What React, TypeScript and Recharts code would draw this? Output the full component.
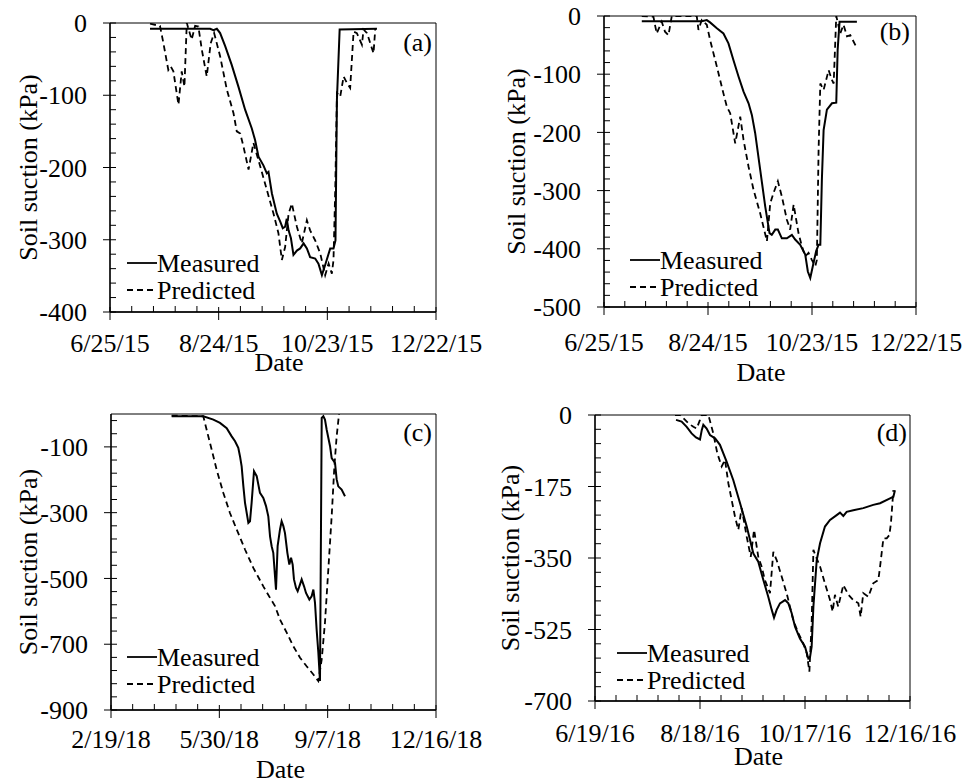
import React from "react";
import { LineChart, Line, XAxis, YAxis, ReferenceArea, Legend } from "recharts";

const FONT = '"Liberation Serif", "Times New Roman", serif';

// (a) days after 6/25/15, soil suction in kPa
const measuredA: number[][] = [
  [22.1, -8], [55.3, -8], [57.1, -10], [59, -8], [60.8, -14], [63.6, -32], [67.2, -58],
  [70.9, -88], [74.6, -120], [78.3, -146], [80.1, -162], [82, -185], [84.7, -197],
  [86.6, -208], [87.5, -206], [89.4, -236], [92.1, -264], [94, -275], [95.4, -284],
  [96.7, -282], [97.6, -271], [98.6, -287], [99.9, -298], [101.3, -321], [103.2, -315],
  [105, -312], [106.9, -305], [108.7, -312], [110.5, -324], [113.3, -326], [115.1, -333],
  [117, -349], [118.8, -335], [121.6, -312], [123.4, -312], [124.5, -301], [125.3, -106],
  [126.8, -9], [147.4, -8],
];
const predictedA: number[][] = [
  [22.1, -1], [27.6, -4], [29.5, -28], [32.2, -65], [33.5, -60], [35, -67], [37.8, -113],
  [39.6, -67], [41.1, -88], [42.4, 0], [45.1, -23], [47, -4], [48.8, -5], [50.7, -37],
  [53.4, -74], [55.6, -28], [57.5, -14], [60.8, -46], [64.5, -92], [68.2, -125], [70, -150],
  [71.9, -153], [73.7, -171], [76.5, -203], [79.2, -166], [82, -190], [86.6, -231],
  [90.3, -264], [93, -291], [94.9, -328], [96.7, -310], [98.6, -264], [100.4, -250],
  [103.2, -282], [105.9, -305], [108.7, -273], [110.5, -287], [113.3, -301], [116.1, -319],
  [118.8, -349], [120.7, -333], [122.5, -347], [123.4, -328], [124.4, -227], [125.3, -97],
  [127.1, -102], [129, -74], [130.8, -83], [132.6, -90], [134.5, -12], [136.3, -14],
  [139.1, -30], [140, -9], [141.9, -14], [145.5, -42], [146.5, -7],
];

// (b) days after 6/25/15
const measuredB: number[][] = [
  [21.8, -9], [56.4, -9], [59.3, -7], [61.2, -11], [65.1, -21], [68.9, -30], [71.8, -47],
  [74.7, -76], [77.6, -104], [80.5, -130], [83.4, -150], [85.3, -170], [87.2, -201],
  [90.1, -264], [93, -327], [95.5, -373], [96.8, -376], [98.8, -367], [100.3, -367],
  [102.6, -382], [105.5, -382], [108.4, -376], [110.3, -384], [113.2, -393], [116.1, -410],
  [117.6, -439], [119, -450], [120.9, -424], [122.4, -404], [123.8, -393], [124.8, -393],
  [125.7, -281], [126.7, -196], [128.6, -161], [131.5, -150], [134, -149], [134.8, -58],
  [135.9, -10], [145.9, -10],
];
const predictedB: number[][] = [
  [21.8, 0], [28.5, -1], [30.4, -30], [33.3, -10], [35.2, -27], [37.2, -33], [39.1, 0],
  [53.5, 0], [54.5, -24], [56.4, -7], [59.3, -15], [61.2, -41], [65.1, -87], [68.9, -133],
  [70.9, -156], [72.8, -167], [75.7, -219], [78.6, -173], [80.5, -213], [83.4, -259],
  [86.3, -299], [90.1, -339], [94, -387], [95.9, -322], [97.8, -304], [100.3, -284],
  [102.6, -310], [105.5, -350], [107.4, -367], [109.4, -324], [112.2, -373], [114.2, -396],
  [116.1, -413], [118, -407], [119.9, -419], [121.9, -430], [122.8, -419], [123.8, -230],
  [124.8, -116], [126.7, -127], [129.6, -93], [131.5, -110], [132.5, -116], [134, 0],
  [136.3, -30], [138.2, -15], [140.2, -35], [142.1, -33], [145.9, -55],
];

// (c) days after 2/19/18
const measuredC: number[][] = [
  [56, -7], [85.2, -7], [94.5, -17], [100.6, -27], [106.8, -43], [111.4, -68], [114.5, -83],
  [117.5, -103], [119.1, -129], [120.6, -159], [122.2, -220], [123.7, -270], [126.8, -331],
  [128.3, -326], [129.8, -270], [132, -174], [134.5, -189], [137.5, -240], [140.6, -255],
  [143.1, -280], [145.2, -311], [146.8, -372], [148.3, -402], [149.8, -422], [152.3, -534],
  [153.8, -402], [156, -351], [157.5, -326], [159.1, -341], [160.6, -362], [162.8, -422],
  [164.6, -458], [166.2, -437], [167.7, -458], [168.9, -503], [170.8, -529], [172.3, -539],
  [174.5, -518], [176, -503], [178.2, -524], [180, -544], [183.1, -564], [185.2, -554],
  [186.8, -534], [188.3, -574], [189.8, -655], [191.4, -726], [192.9, -812], [194.5, -12],
  [196, -7], [197.5, -17], [199.1, -48], [202.2, -98], [203.7, -134], [206.8, -149],
  [208.3, -199], [209.8, -220], [212.9, -230], [216, -250],
];
const predictedC: number[][] = [
  [56, -5], [85.2, -7], [88.3, -48], [92.9, -108], [97.5, -169], [103.7, -240], [109.8, -301],
  [116, -351], [123.7, -412], [131.4, -468], [140.6, -524], [146.8, -559], [151.4, -584],
  [156, -625], [162.2, -665], [168.3, -706], [174.5, -741], [180.6, -767], [186.8, -792],
  [191.4, -812], [194.5, -746], [197.5, -635], [200.6, -473], [203.7, -311], [206.2, -159],
  [208.3, -68], [210.5, 0],
];

// (d) days after 6/19/16
const measuredD: number[][] = [
  [46.3, -12], [49.5, -16], [52.4, -29], [55.2, -45], [57.7, -55], [60, -60], [61, -37],
  [61.9, -24], [63.8, -33], [65.7, -49], [68.6, -57], [71.4, -73], [75.2, -114], [79, -159],
  [82.9, -216], [86.7, -273], [90.5, -339], [93.3, -359], [96.2, -404], [99, -445],
  [101, -477], [102.3, -496], [103.8, -477], [105.7, -461], [108.6, -453], [110.5, -461],
  [112.4, -485], [114.3, -518], [117.1, -547], [120, -567], [121.9, -596], [122.9, -592],
  [123.8, -567], [124.8, -469], [126.7, -355], [128.6, -314], [131.4, -273], [134.3, -257],
  [138.1, -245], [140, -239], [141.9, -247], [143.8, -237], [147.6, -233], [153.3, -228],
  [159, -220], [162.9, -216], [168.6, -204], [170.5, -200], [171.4, -184],
];
const predictedD: number[][] = [
  [45.7, 0], [48.6, 0], [50.5, -8], [53.3, -20], [56.2, -29], [58.1, -33], [60, -12], [61, 0],
  [64.8, 0], [67.6, -45], [69.9, -94], [72.4, -126], [74.3, -110], [76.2, -167], [78.1, -208],
  [80, -249], [81.9, -281], [83.8, -228], [86.7, -298], [89, -347], [90.9, -281], [93.3, -347],
  [95.2, -371], [97.1, -404], [100, -436], [101.9, -335], [103.8, -355], [106.7, -396],
  [109.5, -436], [111.4, -469], [113.3, -502], [116.2, -534], [119, -559], [121, -583],
  [122.5, -628], [123.8, -510], [124.8, -330], [126.3, -347], [128.6, -371], [131.4, -412],
  [134.3, -453], [135.8, -481], [137.1, -440], [139, -469], [141.9, -416], [144.8, -440],
  [147.6, -453], [150.5, -461], [151.8, -494], [153.3, -436], [156.2, -445], [159, -412],
  [161.9, -404], [162.9, -371], [164.8, -302], [166.7, -302], [168.2, -294], [169.1, -265],
  [170.5, -184],
];

const dates2015 = ["6/25/15", "8/24/15", "10/23/15", "12/22/15"];
const dates2018 = ["2/19/18", "5/30/18", "9/7/18", "12/16/18"];
const dates2016 = ["6/19/16", "8/18/16", "10/17/16", "12/16/16"];

const legendRows = [
  { name: "Measured", dash: undefined },
  { name: "Predicted", dash: "6 4" },
];

const Y_AXIS_W = 60;
const X_AXIS_H = 30;

const range = (from: number, to: number, step: number) => {
  const out: number[] = [];
  for (let v = from; v <= to + 1e-9; v += step) out.push(Math.round(v * 100) / 100);
  return out;
};

const rows = (pts: number[][]) => pts.map(([day, kPa]) => ({ day, kPa }));

const XTick = ({ x, y, payload, majors, labels, labelDy }: any) => {
  const i = majors.indexOf(payload.value);
  if (i < 0) return <line x1={x} x2={x} y1={y} y2={y - 6} stroke="#000" strokeWidth={1} />;
  return (
    <g>
      <line x1={x} x2={x} y1={y - 5} y2={y + 8} stroke="#000" strokeWidth={1} />
      <text x={x} y={y + labelDy} textAnchor="middle" fontSize={26} fontFamily={FONT} fill="#000">
        {labels[i]}
      </text>
    </g>
  );
};

const YTick = ({ x, y, payload, majors }: any) => {
  if (!majors.includes(payload.value))
    return <line x1={x} x2={x + 6} y1={y} y2={y} stroke="#000" strokeWidth={1} />;
  return (
    <g>
      <line x1={x - 7} x2={x + 6} y1={y} y2={y} stroke="#000" strokeWidth={1} />
      <text x={x - 23} y={y} dy="0.35em" textAnchor="end" fontSize={26} fontFamily={FONT} fill="#000">
        {payload.value}
      </text>
    </g>
  );
};

const LegendBox = () => (
  <div style={{ fontFamily: FONT, fontSize: 26, color: "#000" }}>
    {legendRows.map((r) => (
      <div key={r.name} style={{ display: "flex", alignItems: "center", height: 27, lineHeight: "27px" }}>
        <svg width={30} height={10} style={{ display: "block" }}>
          <line x1={0} x2={30} y1={5} y2={5} stroke="#000" strokeWidth={1.8} strokeDasharray={r.dash} />
        </svg>
        <span style={{ fontFamily: FONT }}>{r.name}</span>
      </div>
    ))}
  </div>
);

type PanelProps = {
  left: number; top: number; width: number; height: number;
  plot: { top: number; right: number; bottom: number; left: number };
  measured: number[][]; predicted: number[][];
  xMax: number; xStep: number; xMajor: number; xLabels: string[];
  yMin: number; yStep: number; yMajor: number;
  labelDy: number; dateOffset: number; dateDx: number; yTitleOffset: number;
  legendLeft: number; legendTop: number;
  letter: string; letterRight: number; letterTop: number;
};

const Panel = (p: PanelProps) => {
  const xTicks = range(0, p.xMax, p.xStep);
  const xMajors = range(0, p.xMax, p.xMajor);
  const yTicks = range(p.yMin, 0, p.yStep);
  const yMajors = range(p.yMin, 0, p.yMajor);
  const margin = {
    top: p.plot.top,
    right: p.plot.right,
    left: p.plot.left - Y_AXIS_W,
    bottom: p.plot.bottom - X_AXIS_H,
  };
  return (
    <div style={{ position: "absolute", left: p.left, top: p.top, width: p.width, height: p.height }}>
      <LineChart width={p.width} height={p.height} margin={margin}>
        <ReferenceArea x1={0} x2={p.xMax} y1={p.yMin} y2={0} fill="none" stroke="#000" strokeWidth={1} />
        <XAxis
          dataKey="day"
          type="number"
          domain={[0, p.xMax]}
          allowDataOverflow
          ticks={xTicks}
          interval={0}
          height={X_AXIS_H}
          tickSize={0}
          tickMargin={0}
          tickLine={false}
          axisLine={{ stroke: "#000", strokeWidth: 1.3 }}
          tick={(t: any) => <XTick {...t} majors={xMajors} labels={p.xLabels} labelDy={p.labelDy} />}
          label={{ value: "Date", position: "bottom", offset: p.dateOffset - X_AXIS_H, dx: p.dateDx, fontSize: 26, fontFamily: FONT, fill: "#000" }}
        />
        <YAxis
          type="number"
          domain={[p.yMin, 0]}
          allowDataOverflow
          ticks={yTicks}
          interval={0}
          width={Y_AXIS_W}
          tickSize={0}
          tickMargin={0}
          tickLine={false}
          axisLine={{ stroke: "#000", strokeWidth: 1.3 }}
          tick={(t: any) => <YTick {...t} majors={yMajors} />}
          label={{
            value: "Soil suction (kPa)",
            angle: -90,
            position: "left",
            offset: p.yTitleOffset - Y_AXIS_W,
            fontSize: 26,
            fontFamily: FONT,
            fill: "#000",
            style: { textAnchor: "middle" },
          }}
        />
        <Legend
          layout="vertical"
          align="center"
          verticalAlign="middle"
          content={() => <LegendBox />}
          wrapperStyle={{ left: p.legendLeft, top: p.legendTop, width: 160, height: 54 }}
        />
        <Line
          name="Measured"
          data={rows(p.measured)}
          dataKey="kPa"
          type="linear"
          stroke="#000"
          strokeWidth={2}
          dot={false}
          isAnimationActive={false}
        />
        <Line
          name="Predicted"
          data={rows(p.predicted)}
          dataKey="kPa"
          type="linear"
          stroke="#000"
          strokeWidth={1.8}
          strokeDasharray="6 4"
          dot={false}
          isAnimationActive={false}
        />
      </LineChart>
      <div
        style={{
          position: "absolute",
          right: p.letterRight,
          top: p.letterTop,
          fontFamily: FONT,
          fontSize: 26,
          lineHeight: "30px",
          color: "#000",
        }}
      >
        {p.letter}
      </div>
    </div>
  );
};

export default function App() {
  return (
    <div style={{ position: "absolute", left: 0, top: 0, width: 965, height: 783, background: "#fff" }}>
      <Panel
        left={0} top={0} width={482} height={390}
        plot={{ top: 23, right: 46, bottom: 78, left: 110 }}
        measured={measuredA} predicted={predictedA}
        xMax={180} xStep={12} xMajor={60} xLabels={dates2015}
        yMin={-400} yStep={20} yMajor={100}
        labelDy={40} dateOffset={40.5} dateDx={6} yTitleOffset={82}
        legendLeft={127} legendTop={249.5}
        letter="(a)" letterRight={50} letterTop={28}
      />
      <Panel
        left={482} top={0} width={483} height={390}
        plot={{ top: 16, right: 49, bottom: 83, left: 122 }}
        measured={measuredB} predicted={predictedB}
        xMax={180} xStep={12} xMajor={60} xLabels={dates2015}
        yMin={-500} yStep={20} yMajor={100}
        labelDy={44} dateOffset={55.5} dateDx={1} yTitleOffset={88}
        legendLeft={148} legendTop={246.5}
        letter="(b)" letterRight={55} letterTop={17}
      />
      <Panel
        left={0} top={390} width={482} height={393}
        plot={{ top: 24, right: 46, bottom: 73, left: 111 }}
        measured={measuredC} predicted={predictedC}
        xMax={300} xStep={20} xMajor={100} xLabels={dates2018}
        yMin={-900} yStep={40} yMajor={200}
        labelDy={38} dateOffset={49.5} dateDx={7} yTitleOffset={83}
        legendLeft={127} legendTop={253.5}
        letter="(c)" letterRight={50} letterTop={28}
      />
      <Panel
        left={482} top={390} width={483} height={393}
        plot={{ top: 25, right: 55, bottom: 82, left: 113 }}
        measured={measuredD} predicted={predictedD}
        xMax={180} xStep={12} xMajor={60} xLabels={dates2016}
        yMin={-700} yStep={35} yMajor={175}
        labelDy={41} dateOffset={45.5} dateDx={6} yTitleOffset={85}
        legendLeft={135} legendTop={249.5}
        letter="(d)" letterRight={58} letterTop={28}
      />
    </div>
  );
}
